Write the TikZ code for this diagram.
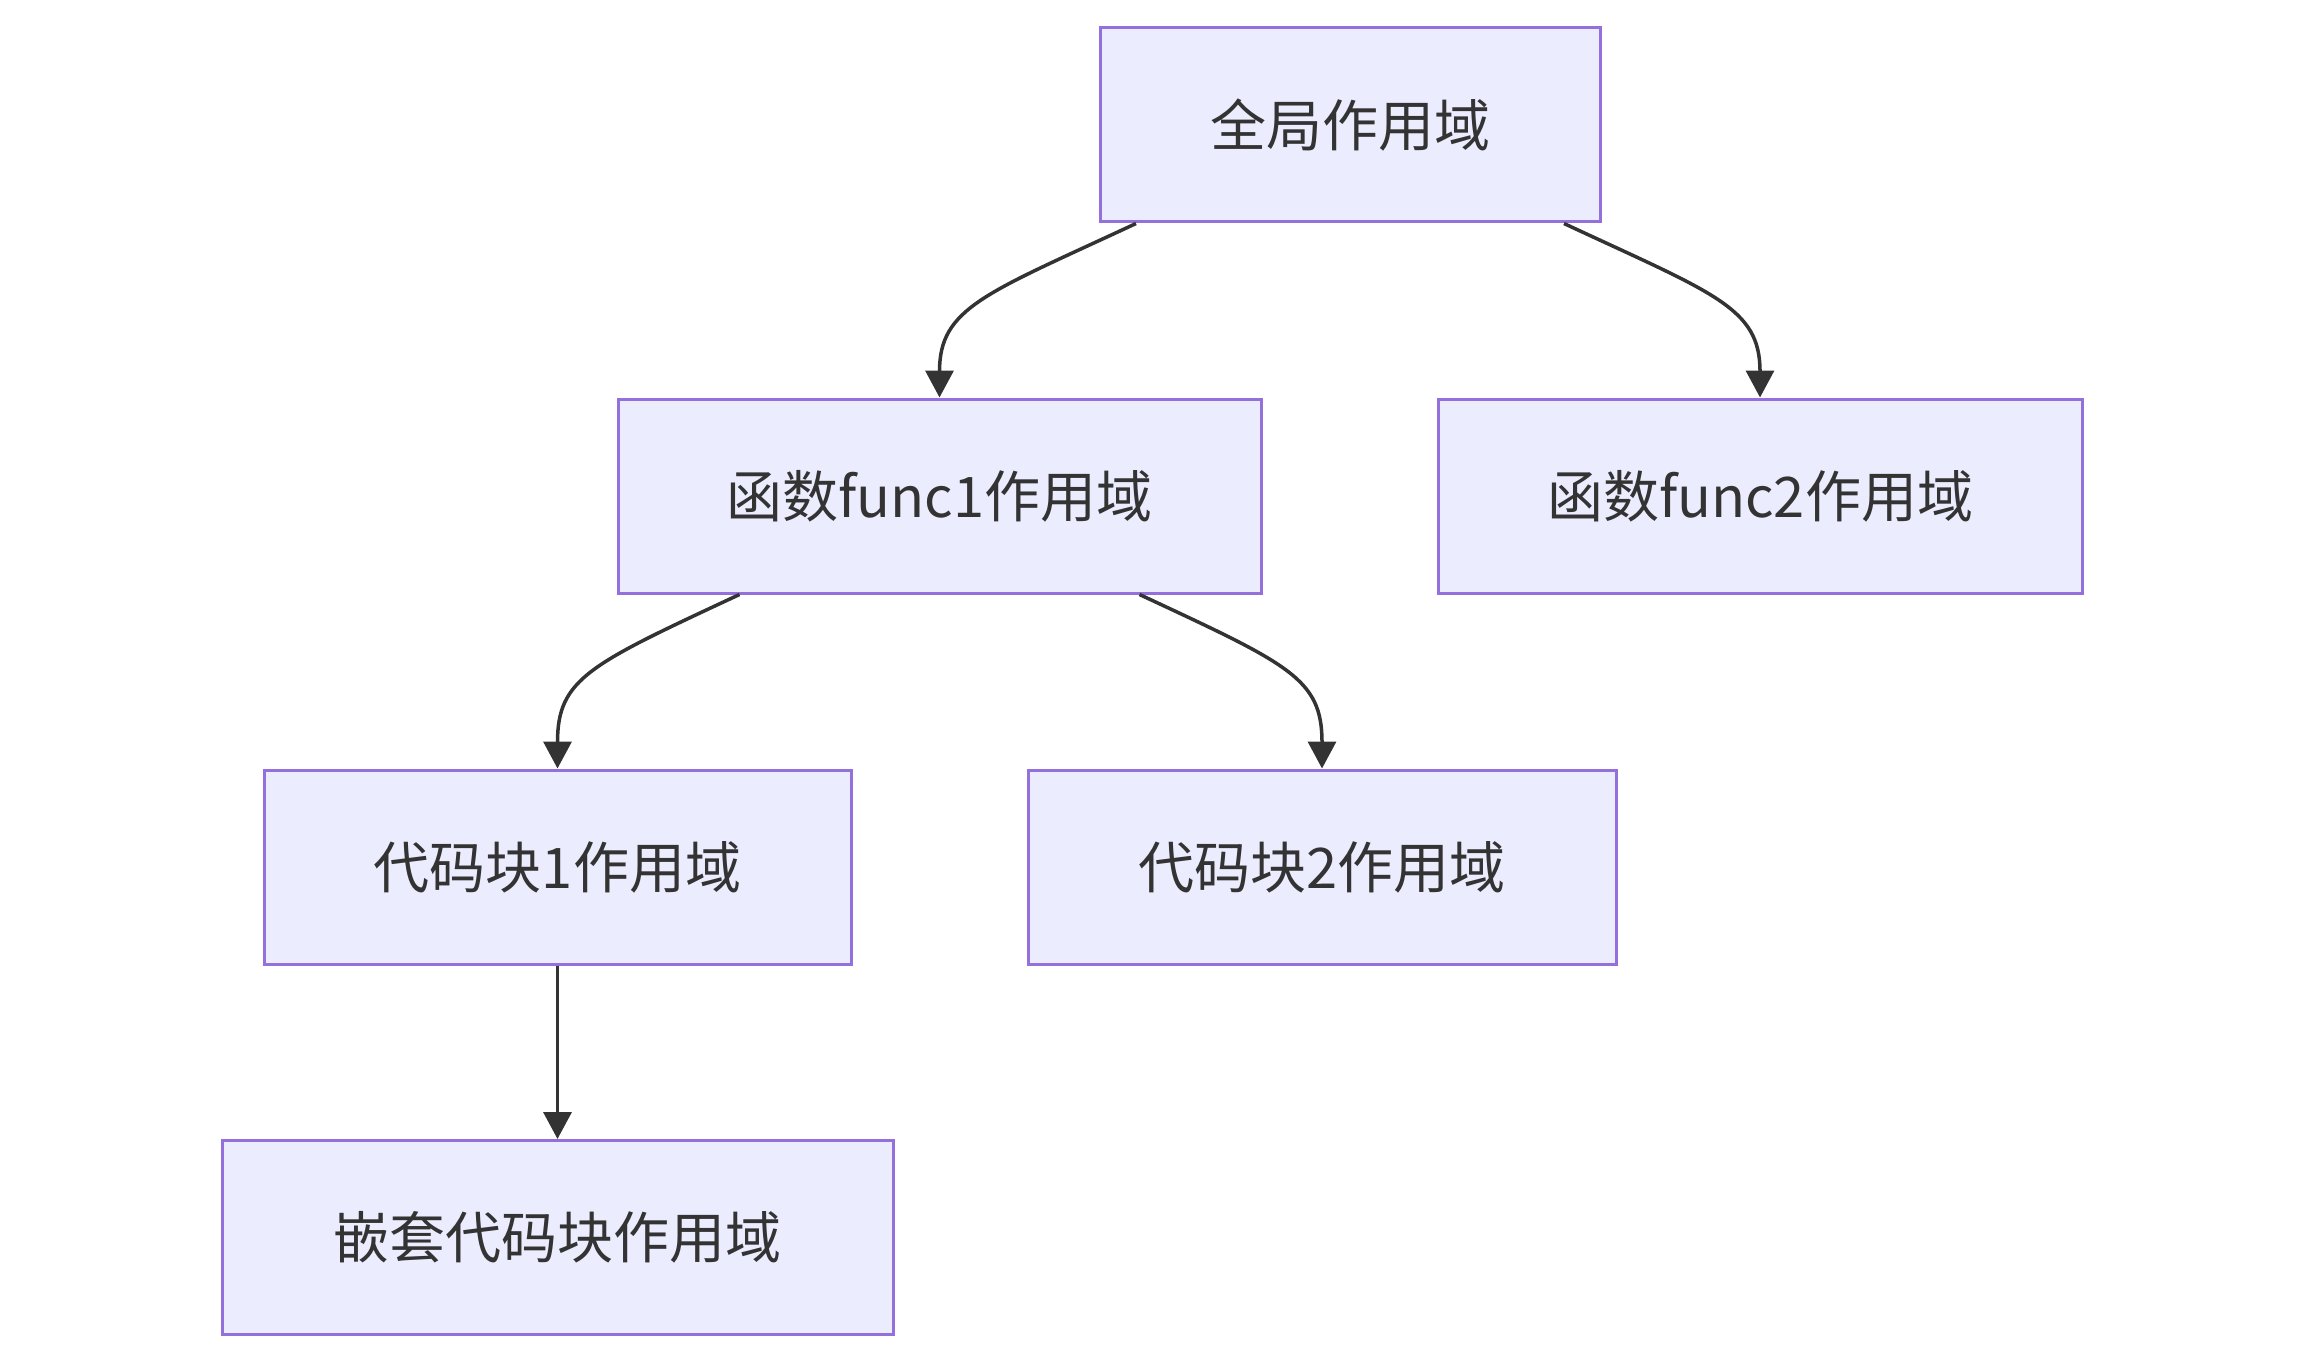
\documentclass[tikz,border=0pt]{standalone}
\usepackage{fontspec}
\setmainfont{Noto Sans CJK SC}
\usetikzlibrary{arrows.meta}
\definecolor{boxfill}{HTML}{ECECFF}
\definecolor{boxline}{HTML}{9370DB}
\definecolor{ink}{HTML}{333333}
\begin{document}
\begin{tikzpicture}[x=1pt,y=-1pt,
  scopebox/.style={draw=boxline, fill=boxfill, line width=3pt, rectangle,
    minimum height=194pt, inner sep=0pt, text=ink,
    font=\fontsize{56}{67}\selectfont},
  edge/.style={draw=ink, line width=3.5pt,
    -{Triangle[length=27pt,width=28pt]}}]
\useasboundingbox (0,0) rectangle (2304,1364);
\fill[white] (0,0) rectangle (2304,1364);
\node[scopebox, minimum width=500pt] (A) at (1350,125) {全局作用域};
\node[scopebox, minimum width=643pt] (B) at (939.5,496) {函数func1作用域};
\node[scopebox, minimum width=644pt] (C) at (1760,496) {函数func2作用域};
\node[scopebox, minimum width=587pt] (D) at (557.5,867) {代码块1作用域};
\node[scopebox, minimum width=588pt] (E) at (1322,867) {代码块2作用域};
\node[scopebox, minimum width=671pt] (F) at (557.5,1237.5) {嵌套代码块作用域};
\draw[edge] ([xshift=-214pt]A.south) .. controls +(-150,70) and +(0,-90) .. (B.north);
\draw[edge] ([xshift=214pt]A.south) .. controls +(150,70) and +(0,-90) .. (C.north);
\draw[edge] ([xshift=-200pt]B.south) .. controls +(-150,70) and +(0,-90) .. (D.north);
\draw[edge] ([xshift=200pt]B.south) .. controls +(150,70) and +(0,-90) .. (E.north);
\draw[edge] (D.south) -- (F.north);
\end{tikzpicture}
\end{document}
